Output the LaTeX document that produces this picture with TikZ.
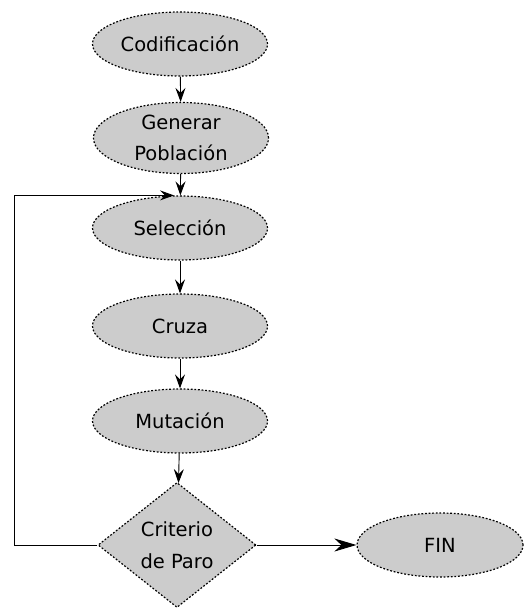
\documentclass[tikz,border=0pt]{standalone}
\usepackage{fontspec}
\setmainfont{DejaVu Sans}
\usetikzlibrary{shapes.geometric,arrows.meta}

\tikzstyle{paso} = [ellipse, draw=black, fill=black!20, dash pattern=on 1.8pt off 1.8pt, line width=1.2pt, minimum width=175, minimum height=64, inner sep=0pt, align=center, font=\fontsize{19.5}{31}\selectfont]
\tikzstyle{decision} = [diamond, draw=black, fill=black!20, dash pattern=on 1.8pt off 1.8pt, line width=1.2pt, minimum width=158, minimum height=125, inner sep=0pt, align=center, font=\fontsize{19.5}{32}\selectfont]
\tikzstyle{flecha} = [-{Stealth[length=14pt,width=10pt,inset=5pt]}, line width=0.9pt]

\begin{document}
\begin{tikzpicture}[x=1pt,y=-1pt]
      \useasboundingbox (0,0) rectangle (525,610);
      \node[paso] (cod) at (180,44) {Codificación};
      \node[paso, minimum height=71] (gen) at (181,138) {Generar\\Población};
      \node[paso] (sel) at (180,228) {Selección};
      \node[paso] (cru) at (180,326) {Cruza};
      \node[paso] (mut) at (180,421) {Mutación};
      \node[decision] (crit) at (177,545) {Criterio\\de Paro};
      \node[paso, minimum width=166] (fin) at (440,545) {FIN};
      \coordinate (ret) at (14,545);
      \draw[flecha] (cod) -- (gen);
      \draw[flecha] (gen) -- (sel);
      \draw[flecha] (sel) -- (cru);
      \draw[flecha] (cru) -- (mut);
      \draw[flecha] (mut) -- (crit);
      \draw[flecha, -{Stealth[length=22pt,width=13pt,inset=7pt]}] (crit.east) -- (fin.west);
      \draw[flecha] (crit.west) -- (ret) |- ([xshift=-6pt]sel.north);
    \end{tikzpicture}
\end{document}
